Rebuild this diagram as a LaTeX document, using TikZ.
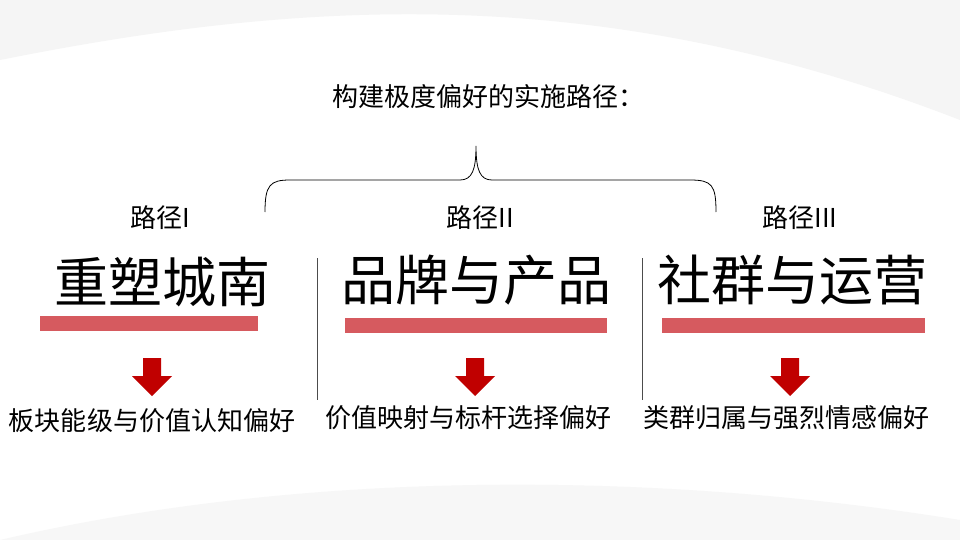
\documentclass[tikz,border=0pt]{standalone}
\usepackage{fontspec}
\setmainfont{Noto Sans CJK SC}
\definecolor{barred}{HTML}{D65A5F}
\definecolor{arrred}{HTML}{C00000}
\begin{document}
\begin{tikzpicture}[x=1pt,y=-1pt,
  small/.style={font=\fontsize{26}{29}\selectfont},
  big/.style={font=\fontsize{54}{60}\selectfont},
  bar/.style={fill=barred,draw=none},
  downarr/.style={fill=arrred,draw=none},
  sep/.style={draw=black!70,line width=0.8pt}]
\useasboundingbox (0,0) rectangle (960,540);
\fill[white] (0,0) rectangle (960,540);
\fill[black!4] (0,60) .. controls (300,0) and (600,-20) .. (960,120) -- (960,0) -- (0,0) -- cycle;
\fill[black!3] (0,540) .. controls (300,470) and (650,470) .. (960,520) -- (960,540) -- cycle;
\node[small] (title) at (488,97) {构建极度偏好的实施路径：};
\coordinate (bl) at (265,212);
\coordinate (br) at (716,212);
\coordinate (bt) at (476,146);
\draw[line width=0.8pt] (bl) .. controls (265,185) and (270,180) .. (290,180) -- (460,180) .. controls (472,180) and (476,170) .. (bt) .. controls (476,170) and (480,180) .. (492,180) -- (690,180) .. controls (712,180) and (716,185) .. (br);
\node[small] (p1) at (160,218) {路径I};
\node[small] (p2) at (480,218) {路径II};
\node[small] (p3) at (800,218) {路径III};
\node[big] (h1) at (162,282) {重塑城南};
\node[big] (h2) at (476,280) {品牌与产品};
\node[big] (h3) at (792,280) {社群与运营};
\fill[bar] (40,316) rectangle (258,331);
\fill[bar] (345,318) rectangle (607,333);
\fill[bar] (662,318) rectangle (925,333);
\draw[sep] (317,258) -- (317,400);
\draw[sep] (642,258) -- (642,400);
\foreach \x in {152,475,790}{
  \fill[downarr] (\x-9,358) -- (\x+9,358) -- (\x+9,376) -- (\x+20,376) -- (\x,396) -- (\x-20,376) -- (\x-9,376) -- cycle;
}
\node[small] (b1) at (152,421) {板块能级与价值认知偏好};
\node[small] (b2) at (468,418) {价值映射与标杆选择偏好};
\node[small] (b3) at (786,418) {类群归属与强烈情感偏好};
\end{tikzpicture}
\end{document}
